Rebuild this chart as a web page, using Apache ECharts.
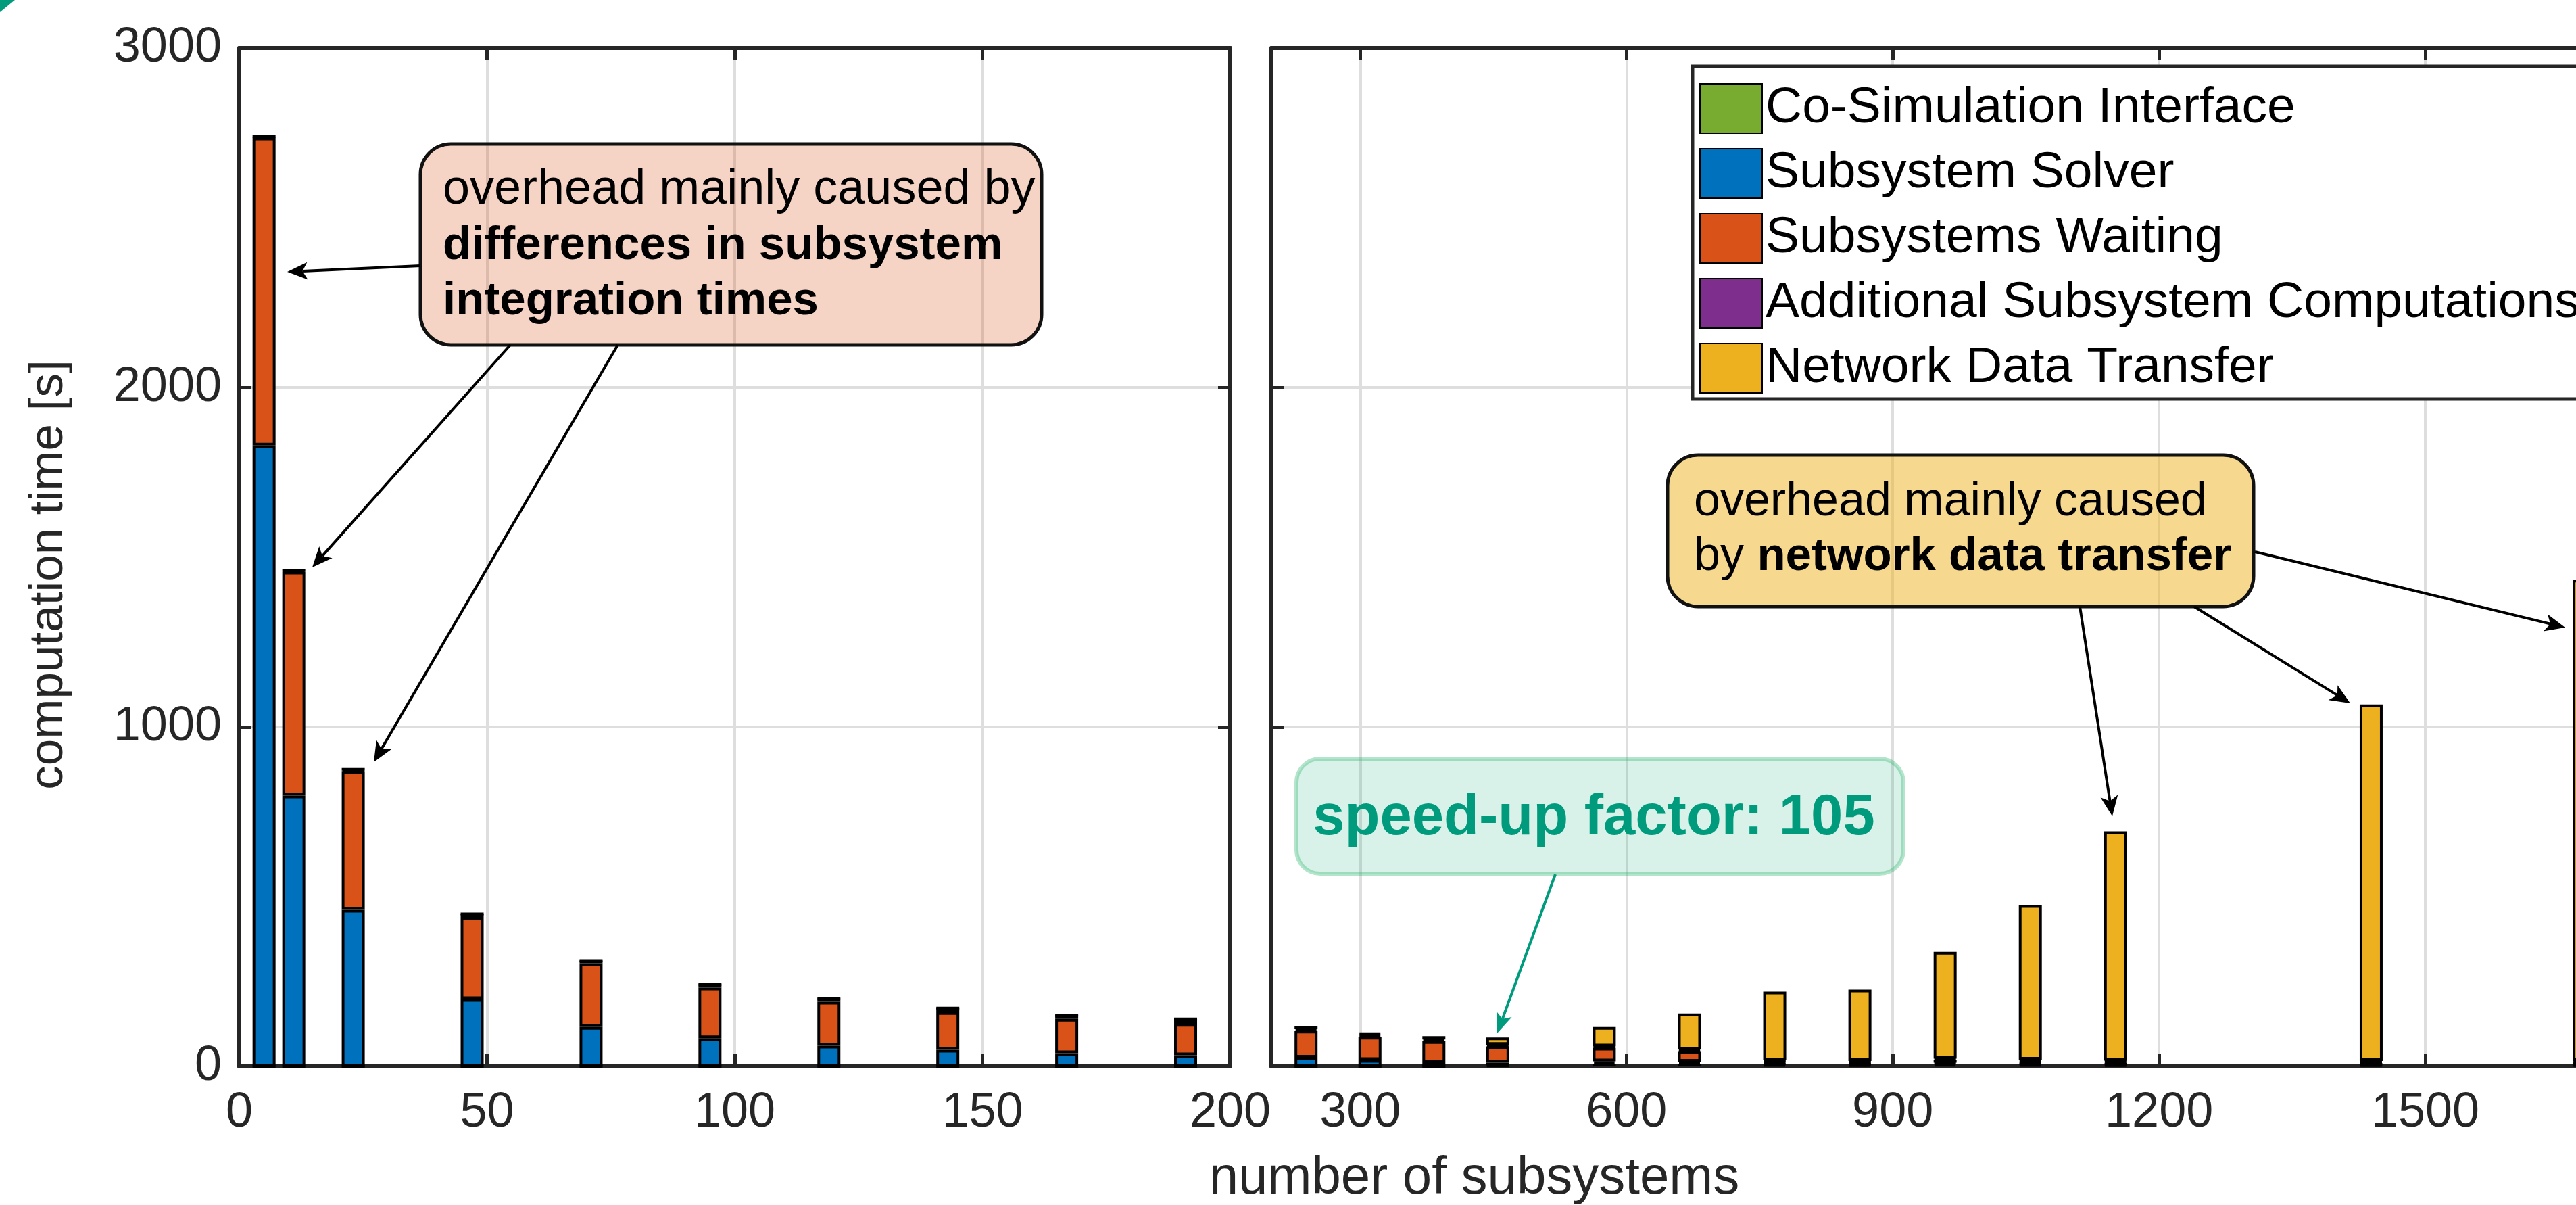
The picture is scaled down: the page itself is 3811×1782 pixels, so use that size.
<!DOCTYPE html>
<html>
<head>
<meta charset="utf-8">
<script src="https://cdn.jsdelivr.net/npm/echarts@6/dist/echarts.min.js"></script>
<style>
  html, body { margin: 0; padding: 0; background: #fff; }
  #chart { width: 3811px; height: 1782px; }
</style>
</head>
<body>
<div id="chart"></div>
<script>
// ==================== Data ====================
const seriesNames = ['Co-Simulation Interface', 'Subsystem Solver', 'Subsystems Waiting',
                     'Additional Subsystem Computations', 'Network Data Transfer'];
const seriesColors = ['#77AC30', '#0072BD', '#D95319', '#7E2F8E', '#EDB120'];

// left panel: local runs
const leftN          = [5, 11, 23, 47, 71, 95, 119, 143, 167, 191];
const leftInterface  = [0, 0, 0, 0, 0, 0, 0, 0, 0, 0];
const leftSolver     = [1829, 798, 461, 198, 116, 83, 61, 49, 39, 33];
const leftWaiting    = [907, 659, 409, 242, 188, 149, 129, 111, 101, 92];
const leftAdditional = [3, 4, 5, 9, 8, 10, 10, 12, 11, 15];
const leftNetwork    = [0, 0, 0, 0, 0, 0, 0, 0, 0, 0];

// right panel: distributed runs
const rightN          = [239, 311, 383, 455, 575, 671, 767, 863, 959, 1055, 1151, 1439, 1679];
const rightInterface  = [0, 0, 0, 3, 8, 8, 6, 5, 7, 6, 5, 5, 5];
const rightSolver     = [26, 19, 12, 8, 7, 6, 3, 3, 4, 3, 3, 2, 2];
const rightWaiting    = [79, 68, 62, 48, 40, 31, 6, 5, 8, 7, 5, 5, 5];
const rightAdditional = [6, 6, 5, 4, 4, 5, 3, 3, 4, 4, 4, 4, 4];
const rightNetwork    = [8, 6, 10, 22, 57, 106, 202, 210, 314, 455, 675, 1050, 1418];

const leftTicks  = [0, 50, 100, 150, 200];
const rightTicks = [300, 600, 900, 1200, 1500, 1800];
const yTicks     = [0, 1000, 2000, 3000];

// ==================== Style helpers ====================
const FONT = '"Liberation Sans", Arial, Helvetica, sans-serif';
const AX = '#262626';
const GRIDC = '#dedede';

function axisBase(extra) {
    return Object.assign({
        type: 'value',
        axisLine: { show: true, onZero: false, lineStyle: { color: AX, width: 6 } },
        axisTick: { show: true, inside: true, length: 18, lineStyle: { color: AX, width: 5 } },
        axisLabel: { show: false },
        splitLine: { show: false }
    }, extra);
}

const tickLabel = (margin) => ({
    show: true, fontSize: 72, color: AX, fontFamily: FONT, margin: margin,
    formatter: v => String(v)
});
const gridLine = { show: true, lineStyle: { color: GRIDC, width: 4 } };

// data rows are [time, n] so that the stacked dimension is the time one
function bars(side, xs, valueLists) {
    return valueLists.map((vals, k) => ({
        name: seriesNames[k],
        type: 'bar',
        stack: side,
        xAxisIndex: side === 'L' ? 0 : 2,
        yAxisIndex: side === 'L' ? 0 : 2,
        barWidth: 34,
        encode: { x: 1, y: 0 },
        data: xs.map((x, i) => [vals[i], x]),
        itemStyle: { color: seriesColors[k], borderColor: '#000', borderWidth: 4 },
        emphasis: { disabled: true }
    }));
}

// arrow with a notched head, like the MATLAB annotation arrows
function arrow(x1, y1, x2, y2, color, lw, hl, hw) {
    const a = Math.atan2(y2 - y1, x2 - x1);
    const c = Math.cos(a), s = Math.sin(a);
    const bx = x2 - hl * c, by = y2 - hl * s;
    const nx = x2 - hl * 0.75 * c, ny = y2 - hl * 0.75 * s;
    const px = -s * hw / 2, py = c * hw / 2;
    return [
        { type: 'line', z: 100, shape: { x1: x1, y1: y1, x2: nx, y2: ny },
          style: { stroke: color, lineWidth: lw } },
        { type: 'polygon', z: 101,
          shape: { points: [[x2, y2], [bx + px, by + py], [nx, ny], [bx - px, by - py]] },
          style: { fill: color } }
    ];
}

function txt(x, y, text, size, weight, color, align, rich) {
    return {
        type: 'text', z: 102, x: x, y: y,
        style: {
            text: text, fill: color || '#000', fontSize: size, fontFamily: FONT,
            fontWeight: weight || 'normal', align: align || 'left', verticalAlign: 'middle',
            rich: rich
        }
    };
}

// ==================== Annotations ====================
const TEAL = '#009B7D';
const annotations = [].concat(
    // small corner mark
    [{ type: 'polygon', z: 100, shape: { points: [[0, 0], [22, 0], [0, 18]] }, style: { fill: TEAL } }],

    // left box
    [{ type: 'rect', z: 99, shape: { x: 622, y: 213, width: 919, height: 297, r: 45 },
       style: { fill: 'rgba(217,83,25,0.25)', stroke: '#111', lineWidth: 5 } }],
    txt(655, 281, 'overhead mainly caused by', 72),
    txt(655, 364, 'differences in subsystem', 69, 'bold'),
    txt(655, 446, 'integration times', 69, 'bold'),
    arrow(622, 393, 425, 402, '#000', 4, 30, 26),
    arrow(755, 510, 462, 839, '#000', 4, 30, 26),
    arrow(914, 510, 553, 1127, '#000', 4, 30, 26),

    // right box
    [{ type: 'rect', z: 99, shape: { x: 2467, y: 673, width: 867, height: 224, r: 45 },
       style: { fill: 'rgba(237,177,32,0.5)', stroke: '#111', lineWidth: 5 } }],
    txt(2506, 743, 'overhead mainly caused', 70),
    txt(2506, 824, 'by {b|network data transfer}', 70, 'normal', '#000', 'left',
        { b: { fontSize: 69, fontFamily: FONT, fontWeight: 'bold', fill: '#000' } }),
    arrow(3077, 897, 3125, 1207, '#000', 4, 30, 26),
    arrow(3246, 897, 3477, 1040, '#000', 4, 30, 26),
    arrow(3336, 816, 3795, 928, '#000', 4, 30, 26),

    // speed-up box
    [{ type: 'rect', z: 99, shape: { x: 1918, y: 1122, width: 898, height: 170, r: 35 },
       style: { fill: 'rgba(0,166,110,0.15)', stroke: 'rgba(40,180,110,0.35)', lineWidth: 6 } }],
    txt(2358, 1211, 'speed-up factor: 105', 85, 'bold', TEAL, 'center'),
    arrow(2301, 1293, 2215, 1528, TEAL, 4, 30, 24),

    // axis titles
    [{ type: 'text', z: 102, x: 72, y: 850, rotation: Math.PI / 2,
       style: { text: 'computation time [s]', fill: AX, fontSize: 71, fontFamily: FONT,
                align: 'center', verticalAlign: 'middle' } }],
    txt(2181, 1743, 'number of subsystems', 78, 'normal', AX, 'center')
);

// ==================== Chart ====================
const chart = echarts.init(document.getElementById('chart'));
chart.setOption({
    animation: false,
    backgroundColor: '#fff',
    grid: [
        { left: 354, top: 71, width: 1466, height: 1506, outerBoundsMode: 'none', containLabel: false },
        { left: 1881, top: 71, width: 2101, height: 1506, outerBoundsMode: 'none', containLabel: false }
    ],
    xAxis: [
        axisBase({ gridIndex: 0, position: 'bottom', min: leftTicks[0], max: leftTicks[leftTicks.length - 1],
                   interval: 50, axisLabel: tickLabel(33), splitLine: gridLine }),
        axisBase({ gridIndex: 0, position: 'top', min: leftTicks[0], max: leftTicks[leftTicks.length - 1],
                   interval: 50 }),
        axisBase({ gridIndex: 1, position: 'bottom', min: 200, max: 1800,
                   axisLabel: Object.assign(tickLabel(33), { customValues: rightTicks }),
                   axisTick: { show: true, inside: true, length: 18, customValues: rightTicks,
                               lineStyle: { color: AX, width: 5 } },
                   splitLine: gridLine }),
        axisBase({ gridIndex: 1, position: 'top', min: 200, max: 1800,
                   axisTick: { show: true, inside: true, length: 18, customValues: rightTicks,
                               lineStyle: { color: AX, width: 5 } } })
    ],
    yAxis: [
        axisBase({ gridIndex: 0, position: 'left', min: yTicks[0], max: yTicks[yTicks.length - 1],
                   interval: 1000, axisLabel: tickLabel(26), splitLine: gridLine }),
        axisBase({ gridIndex: 0, position: 'right', min: 0, max: 3000, interval: 1000 }),
        axisBase({ gridIndex: 1, position: 'left', min: 0, max: 3000, interval: 1000, splitLine: gridLine }),
        axisBase({ gridIndex: 1, position: 'right', min: 0, max: 3000, interval: 1000 })
    ],
    legend: {
        data: seriesNames,
        orient: 'vertical',
        left: 2504, top: 98,
        itemWidth: 92, itemHeight: 73, itemGap: 21,
        padding: [25, 40, 8, 10],
        icon: 'rect',
        selectedMode: false,
        backgroundColor: '#fff',
        borderColor: AX, borderWidth: 5, borderRadius: 0,
        textStyle: { fontSize: 75, color: '#000', fontFamily: FONT, lineHeight: 75 }
    },
    series: [].concat(
        bars('L', leftN, [leftInterface, leftSolver, leftWaiting, leftAdditional, leftNetwork]),
        bars('R', rightN, [rightInterface, rightSolver, rightWaiting, rightAdditional, rightNetwork])
    ),
    graphic: { elements: annotations }
});
</script>
</body>
</html>
